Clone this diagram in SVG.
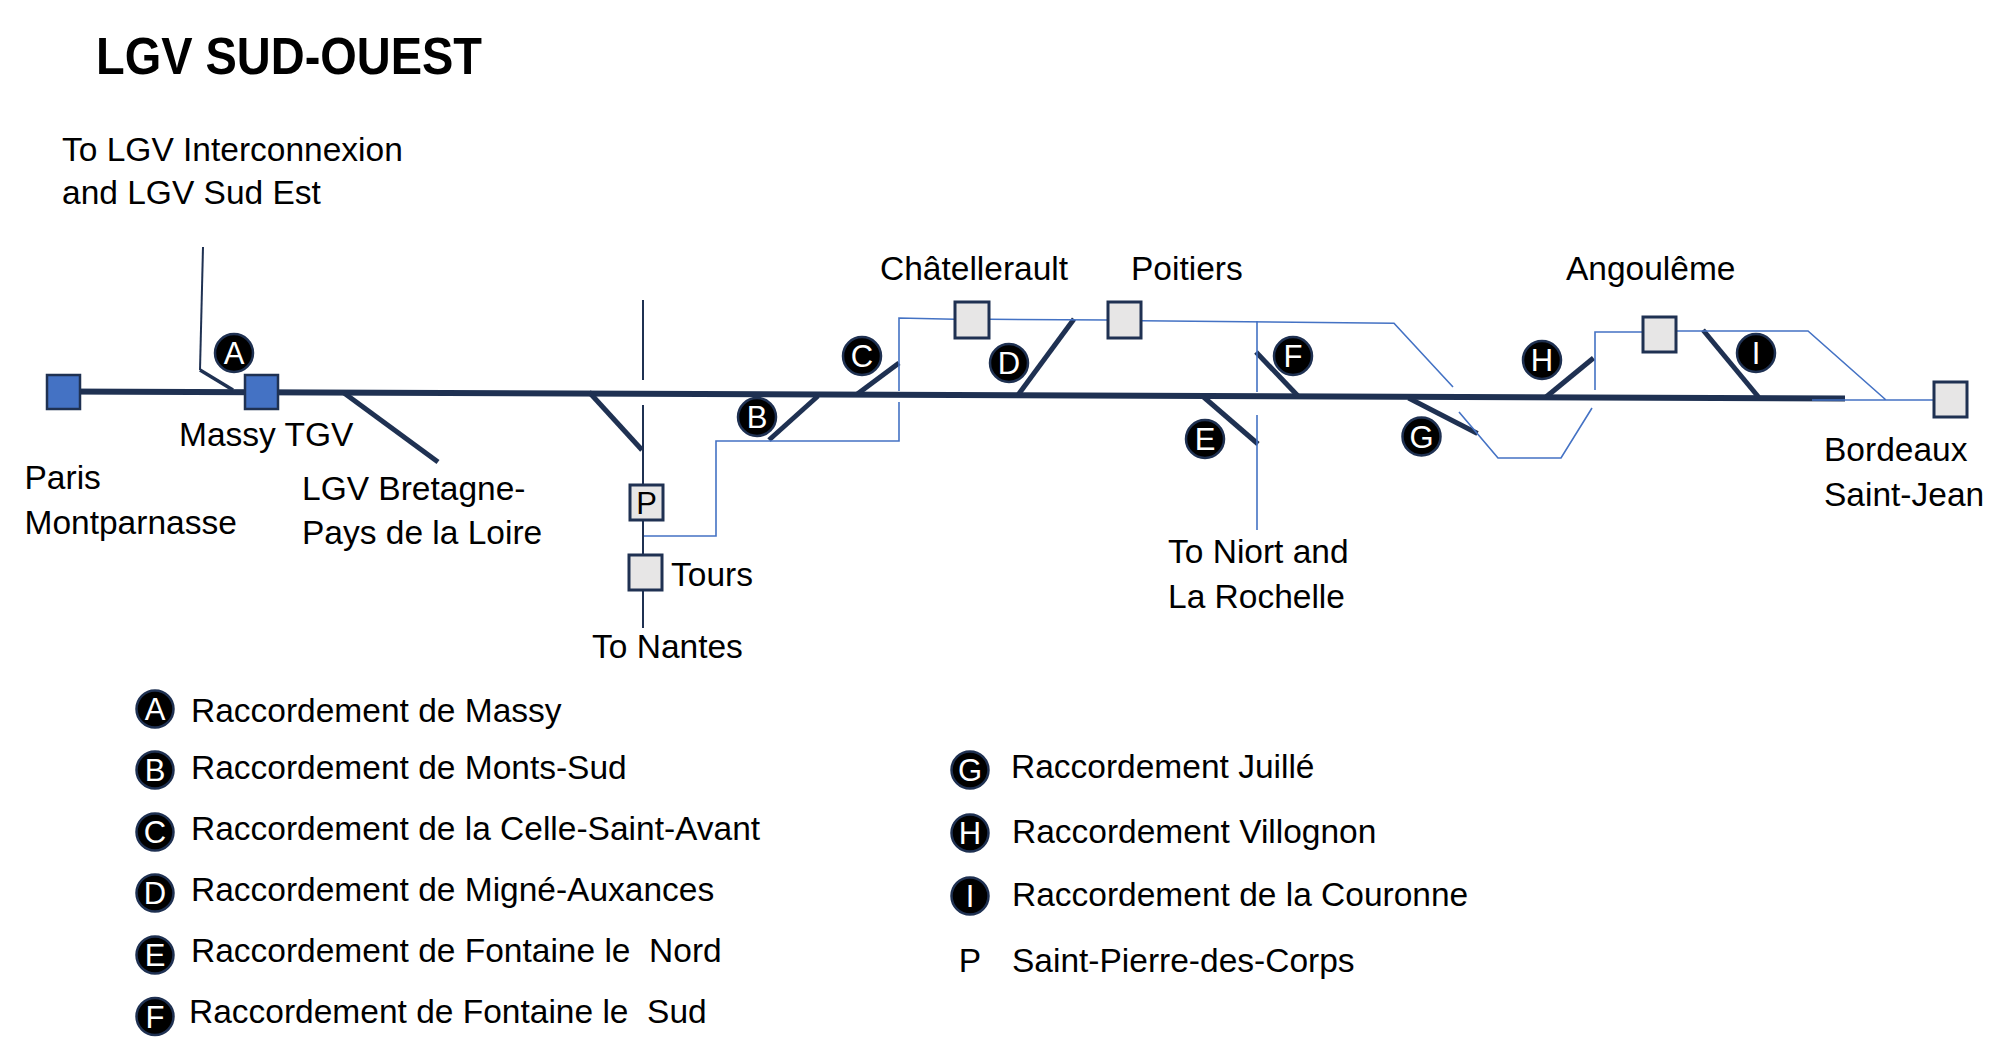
<svg xmlns="http://www.w3.org/2000/svg" width="2001" height="1062" viewBox="0 0 2001 1062">
<style>
text{font-family:"Liberation Sans",Arial,sans-serif;fill:#000}
.lbl{font-size:33.5px}
.title{font-size:51px;font-weight:bold}
.main{stroke:#1F3152;stroke-width:6;fill:none}
.thick{stroke:#1F3152;stroke-width:5;fill:none}
.mid{stroke:#1F3152;stroke-width:3.5;fill:none}
.thin{stroke:#1F3152;stroke-width:2;fill:none}
.old{stroke:#4472C4;stroke-width:1.6;fill:none}
.blue{fill:#4472C4;stroke:#1F3152;stroke-width:2.5}
.grey{fill:#E7E6E6;stroke:#1F3152;stroke-width:3}
.badge circle{fill:#000;stroke:#1F3152;stroke-width:2.5}
.badge text{fill:#fff;font-size:31px;text-anchor:middle}
</style>
<rect width="2001" height="1062" fill="#fff"/>
<text class="title" x="96" y="74" textLength="386" lengthAdjust="spacingAndGlyphs">LGV SUD-OUEST</text>

<g id="connectors">
<line class="main" x1="63" y1="391.5" x2="1845" y2="398.5"/>
<polyline class="thin" points="203,247 200,370"/>
<line class="mid" x1="200" y1="370" x2="233" y2="390"/>
<line class="thick" x1="344" y1="393" x2="438" y2="462"/>
<line class="thin" x1="643" y1="300" x2="643" y2="380"/>
<line class="thin" x1="643" y1="405" x2="643" y2="628"/>
<line class="thick" x1="589" y1="392" x2="642" y2="450"/>
<line class="thick" x1="818" y1="396" x2="769" y2="440"/>
<line class="thick" x1="856" y1="395" x2="899" y2="363"/>
<line class="thick" x1="1018" y1="395" x2="1074" y2="319"/>
<line class="thick" x1="1203.6" y1="397" x2="1258" y2="444"/>
<line class="thick" x1="1256" y1="352" x2="1298" y2="396"/>
<line class="thick" x1="1408.5" y1="398" x2="1477.5" y2="433.5"/>
<line class="thick" x1="1546" y1="397" x2="1593.5" y2="358"/>
<line class="thick" x1="1703" y1="330" x2="1758.5" y2="397"/>
<path class="old" d="M644 536 H716 V441 H899 V402 M899 391 V318 L955 319.3 M989 319.3 L1108 320 M1141 320.7 L1394 323.3 L1453 387 M1459 412 L1498 458 H1561 L1592 408 M1595 390 V332 H1643 M1675 331 H1808 L1886 400 M1812 400 H1934"/>
<path class="old" d="M1257 321 V392 M1257 415 V530"/>
</g>

<g id="paris"><rect class="blue" x="47" y="375" width="33" height="34"/>
<text class="lbl" x="24.5" y="489">Paris</text><text class="lbl" x="24.5" y="534">Montparnasse</text></g>
<g id="massy"><rect class="blue" x="245" y="375" width="33" height="34"/>
<text class="lbl" x="179" y="446">Massy TGV</text></g>
<g id="interconnexion"><text class="lbl" x="62" y="161">To LGV Interconnexion</text><text class="lbl" x="62" y="204">and LGV Sud Est</text></g>
<g id="bretagne"><text class="lbl" x="302" y="500">LGV Bretagne-</text><text class="lbl" x="302" y="544">Pays de la Loire</text></g>
<g id="spdc"><rect class="grey" x="630" y="485" width="33" height="35"/><text class="lbl" x="646.5" y="514" text-anchor="middle" style="font-size:31px">P</text></g>
<g id="tours"><rect class="grey" x="629" y="555" width="33" height="35"/><text class="lbl" x="671" y="586">Tours</text></g>
<g id="nantes"><text class="lbl" x="592" y="658">To Nantes</text></g>
<g id="chatellerault"><rect class="grey" x="955" y="302" width="34" height="36"/><text class="lbl" x="880" y="280">Châtellerault</text></g>
<g id="poitiers"><rect class="grey" x="1108" y="302" width="33" height="36"/><text class="lbl" x="1131" y="280">Poitiers</text></g>
<g id="niort"><text class="lbl" x="1168" y="563">To Niort and</text><text class="lbl" x="1168" y="608">La Rochelle</text></g>
<g id="angouleme"><rect class="grey" x="1643" y="317" width="33" height="35"/><text class="lbl" x="1566" y="280">Angoulême</text></g>
<g id="bordeaux"><rect class="grey" x="1934" y="382" width="33" height="35"/><text class="lbl" x="1824" y="461">Bordeaux</text><text class="lbl" x="1824" y="506">Saint-Jean</text></g>

<g id="badge-A" class="badge"><circle cx="234" cy="353" r="19"/><text x="234" y="364">A</text></g>
<g id="badge-B" class="badge"><circle cx="757" cy="417" r="19"/><text x="757" y="428">B</text></g>
<g id="badge-C" class="badge"><circle cx="862" cy="356" r="19"/><text x="862" y="367">C</text></g>
<g id="badge-D" class="badge"><circle cx="1009" cy="363" r="19"/><text x="1009" y="374">D</text></g>
<g id="badge-E" class="badge"><circle cx="1205" cy="439" r="19"/><text x="1205" y="450">E</text></g>
<g id="badge-F" class="badge"><circle cx="1293" cy="356" r="19"/><text x="1293" y="367">F</text></g>
<g id="badge-G" class="badge"><circle cx="1421.5" cy="436.5" r="19"/><text x="1421.5" y="447.5">G</text></g>
<g id="badge-H" class="badge"><circle cx="1542" cy="360" r="19"/><text x="1542" y="371">H</text></g>
<g id="badge-I" class="badge"><circle cx="1756" cy="353" r="19"/><text x="1756" y="364">I</text></g>

<g id="legend">
<g class="badge"><circle cx="155" cy="709" r="18.5"/><text x="155" y="720">A</text></g>
<text class="lbl" x="191" y="722">Raccordement de Massy</text>
<g class="badge"><circle cx="155" cy="770" r="18.5"/><text x="155" y="781">B</text></g>
<text class="lbl" x="191" y="779">Raccordement de Monts-Sud</text>
<g class="badge"><circle cx="155" cy="832" r="18.5"/><text x="155" y="843">C</text></g>
<text class="lbl" x="191" y="840">Raccordement de la Celle-Saint-Avant</text>
<g class="badge"><circle cx="155" cy="893" r="18.5"/><text x="155" y="904">D</text></g>
<text class="lbl" x="191" y="901">Raccordement de Migné-Auxances</text>
<g class="badge"><circle cx="155" cy="955" r="18.5"/><text x="155" y="966">E</text></g>
<text class="lbl" x="191" y="962" xml:space="preserve">Raccordement de Fontaine le  Nord</text>
<g class="badge"><circle cx="155" cy="1016.5" r="18.5"/><text x="155" y="1027.5">F</text></g>
<text class="lbl" x="189" y="1023" xml:space="preserve">Raccordement de Fontaine le  Sud</text>
<g class="badge"><circle cx="970" cy="770" r="18.5"/><text x="970" y="781">G</text></g>
<text class="lbl" x="1011" y="778">Raccordement Juillé</text>
<g class="badge"><circle cx="970" cy="833" r="18.5"/><text x="970" y="844">H</text></g>
<text class="lbl" x="1012" y="843">Raccordement Villognon</text>
<g class="badge"><circle cx="970" cy="896" r="18.5"/><text x="970" y="907">I</text></g>
<text class="lbl" x="1012" y="906">Raccordement de la Couronne</text>
<text class="lbl" x="970" y="972" text-anchor="middle">P</text>
<text class="lbl" x="1012" y="972">Saint-Pierre-des-Corps</text>
</g>
</svg>
